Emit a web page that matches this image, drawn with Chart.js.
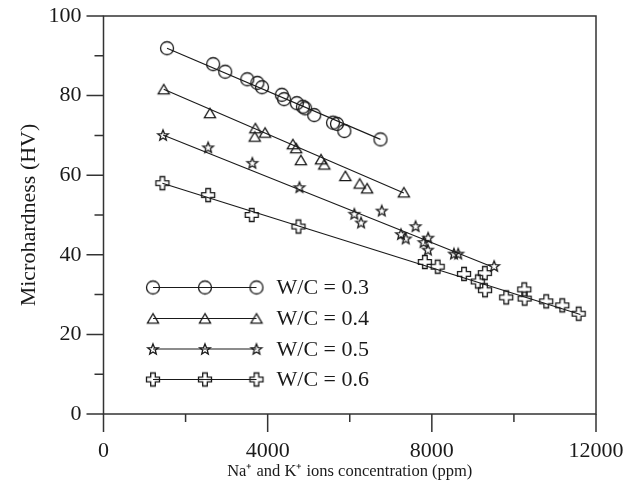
<!DOCTYPE html>
<html>
<head>
<meta charset="utf-8">
<script src="https://cdn.jsdelivr.net/npm/chart.js@4.4.1/dist/chart.umd.min.js"></script>
<style>
  html, body { margin: 0; padding: 0; background: #fff; }
</style>
</head>
<body>
<canvas id="hardnessChart" width="638" height="495"></canvas>
<script>
const wc03X = [1548, 2672, 2966, 3504, 3748, 3863, 4345, 4401, 4711, 4858, 4914, 5134, 5592, 5689, 5868, 6748];
const wc03Y = [91.9, 87.9, 86.0, 84.1, 83.2, 82.1, 80.2, 79.1, 78.1, 77.2, 76.8, 75.1, 73.2, 72.9, 71.1, 69.0];

const wc04X = [1467, 2592, 3699, 3936, 3685, 4614, 4694, 4809, 5298, 5379, 5892, 6242, 6423, 7318];
const wc04Y = [81.6, 75.6, 71.8, 70.7, 69.7, 67.8, 66.8, 63.8, 64.0, 62.7, 59.8, 57.9, 56.7, 55.7];

const wc05X = [1450, 2550, 3626, 4775, 6112, 6276, 6780, 7249, 7364, 7604, 7800, 7910, 7905, 8540, 8643, 9518];
const wc05Y = [70.1, 67.0, 63.1, 57.0, 50.3, 48.1, 51.1, 45.2, 44.1, 47.2, 43.2, 44.3, 41.3, 40.3, 40.3, 37.2];

const wc06X = [1435, 2550, 3611, 4751, 7829, 8142, 8785, 9120, 9291, 9296, 9812, 10252, 10262, 10787, 11178, 11577];
const wc06Y = [58.0, 55.0, 50.0, 47.1, 38.2, 37.0, 35.2, 33.3, 35.4, 31.1, 29.3, 31.3, 29.0, 28.3, 27.3, 25.2];

// fitted trend lines (end points)
const fit03X = [1548, 6748];  const fit03Y = [91.9, 69.0];
const fit04X = [1467, 7318];  const fit04Y = [81.6, 55.5];
const fit05X = [1450, 9420];  const fit05Y = [70.1, 37.2];
const fit06X = [1435, 11620]; const fit06Y = [58.0, 25.0];

const seriesLabels = ["W/C = 0.3", "W/C = 0.4", "W/C = 0.5", "W/C = 0.6"];

// axis ticks
const xTicks = [0, 4000, 8000, 12000];
const xMinor = [2000, 6000, 10000];
const yTicks = [0, 20, 40, 60, 80, 100];
const yMinor = [10, 30, 50, 70, 90];

const INK = "#1a1a1a";
const FONT = "'Liberation Serif', 'Times New Roman', serif";

// hollow marker images
function makeMarker(kind) {
  const c = document.createElement("canvas");
  c.width = 20; c.height = 20;
  const g = c.getContext("2d");
  g.strokeStyle = INK;
  g.lineWidth = 1.3;
  g.translate(10, 10);
  g.beginPath();
  if (kind === "circle") {
    g.arc(0, 0, 6.5, 0, Math.PI * 2);
  } else if (kind === "triangle") {
    g.moveTo(0, -4.8); g.lineTo(5.6, 4.6); g.lineTo(-5.6, 4.6); g.closePath();
  } else if (kind === "star") {
    for (let i = 0; i < 10; i++) {
      const r = i % 2 === 0 ? 5.6 : 2.4;
      const a = -Math.PI / 2 + i * Math.PI / 5;
      const px = r * Math.cos(a), py = r * Math.sin(a) + 0.5;
      if (i === 0) g.moveTo(px, py); else g.lineTo(px, py);
    }
    g.closePath();
  } else {
    const L = 6.5, W = 2.3;
    g.moveTo(-W, -L); g.lineTo(W, -L); g.lineTo(W, -W); g.lineTo(L, -W);
    g.lineTo(L, W); g.lineTo(W, W); g.lineTo(W, L); g.lineTo(-W, L);
    g.lineTo(-W, W); g.lineTo(-L, W); g.lineTo(-L, -W); g.lineTo(-W, -W);
    g.closePath();
  }
  g.stroke();
  return c;
}
const markers = [makeMarker("circle"), makeMarker("triangle"), makeMarker("star"), makeMarker("cross")];

function pts(xs, ys) { return xs.map((x, i) => ({ x: x, y: ys[i] })); }

function scatterSet(i, xs, ys) {
  return { label: seriesLabels[i], data: pts(xs, ys), showLine: false,
    pointStyle: markers[i], pointRadius: 7, pointHoverRadius: 7 };
}
function fitSet(xs, ys) {
  return { label: "", data: pts(xs, ys), showLine: true, borderColor: INK,
    borderWidth: 1.1, pointRadius: 0, pointHoverRadius: 0, fill: false };
}

// frame, tick marks and the inset legend
const framePlugin = {
  id: "frame",
  afterDraw(chart) {
    const { ctx, chartArea: a, scales } = chart;
    ctx.save();
    ctx.strokeStyle = "#333";
    ctx.lineWidth = 1.5;
    ctx.strokeRect(a.left, a.top, a.right - a.left, a.bottom - a.top);
    ctx.beginPath();
    yTicks.concat(yMinor).forEach(v => {
      const y = scales.y.getPixelForValue(v);
      const len = yTicks.includes(v) ? 17 : 9;
      ctx.moveTo(a.left - len, y); ctx.lineTo(a.left, y);
    });
    xTicks.concat(xMinor).forEach(v => {
      const x = scales.x.getPixelForValue(v);
      const len = xTicks.includes(v) ? 18 : 8;
      ctx.moveTo(x, a.bottom); ctx.lineTo(x, a.bottom + len);
    });
    ctx.stroke();

    // legend
    const rows = [a.bottom - 126.5, a.bottom - 95.5, a.bottom - 65, a.bottom - 34.5];
    const mx = [a.left + 49.5, a.left + 101.5, a.left + 153];
    ctx.lineWidth = 1.1;
    ctx.strokeStyle = INK;
    ctx.fillStyle = INK;
    ctx.font = "22px " + FONT;
    ctx.textBaseline = "middle";
    rows.forEach((y, i) => {
      ctx.beginPath();
      ctx.moveTo(mx[0], y); ctx.lineTo(mx[2], y);
      ctx.stroke();
      mx.forEach(x => ctx.drawImage(markers[i], x - 10, y - 10));
      ctx.fillText(seriesLabels[i], a.left + 173, y + 1);
    });
    ctx.restore();
  }
};

new Chart(document.getElementById("hardnessChart"), {
  type: "scatter",
  data: {
    datasets: [
      fitSet(fit03X, fit03Y), fitSet(fit04X, fit04Y), fitSet(fit05X, fit05Y), fitSet(fit06X, fit06Y),
      scatterSet(0, wc03X, wc03Y), scatterSet(1, wc04X, wc04Y),
      scatterSet(2, wc05X, wc05Y), scatterSet(3, wc06X, wc06Y),
    ],
  },
  options: {
    responsive: false,
    animation: false,
    layout: { padding: { left: 0, top: 16, right: 42, bottom: 0 } },
    plugins: { legend: { display: false }, tooltip: { enabled: false } },
    scales: {
      x: {
        type: "linear", min: 0, max: 12000,
        afterBuildTicks: s => { s.ticks = xTicks.map(v => ({ value: v })); },
        afterFit: s => { s.height = 81; s.paddingLeft = 0; s.paddingRight = 0; },
        grid: { display: false, drawTicks: false },
        border: { display: false },
        ticks: { color: INK, padding: 24, font: { family: FONT, size: 22 },
          callback: v => String(v) },
        title: { display: true, text: "Na\u207A and K\u207A ions concentration (ppm)", color: INK,
          padding: { top: 0, bottom: 13 }, font: { family: FONT, size: 16.5 } },
      },
      y: {
        type: "linear", min: 0, max: 100,
        afterBuildTicks: s => { s.ticks = yTicks.map(v => ({ value: v })); },
        afterFit: s => { s.width = 103.5; s.paddingTop = 0; s.paddingBottom = 0; },
        grid: { display: false, drawTicks: false },
        border: { display: false },
        ticks: { color: INK, padding: 22, font: { family: FONT, size: 22 },
          callback: v => String(v) },
        title: { display: true, text: "Microhardness (HV)", color: INK,
          padding: { top: 16, bottom: 0 }, font: { family: FONT, size: 22 } },
      },
    },
  },
  plugins: [framePlugin],
});
</script>
</body>
</html>
